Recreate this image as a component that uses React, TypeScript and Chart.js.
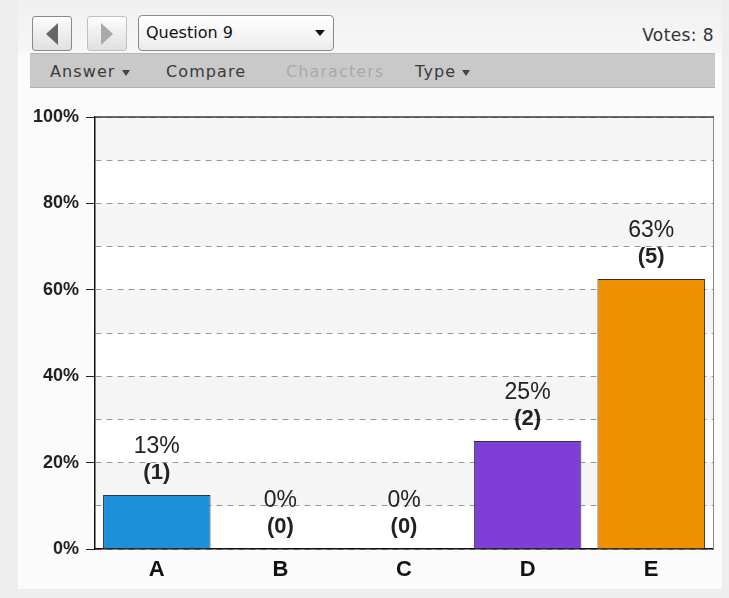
import React, { useEffect, useRef } from "react";
import { Chart, registerables } from "chart.js";

Chart.register(...registerables);

const categories = ["A", "B", "C", "D", "E"];
const voteCounts = [1, 0, 0, 2, 5];
const percentValues = [12.5, 0, 0, 25, 62.5];
const percentLabels = ["13%", "0%", "0%", "25%", "63%"];
const barColors = ["#1E8FDA", "#1E8FDA", "#1E8FDA", "#7F3FD6", "#EE9000"];
const questionLabel = "Question 9";
const totalVotes = 8;
const menuItems = ["Answer", "Compare", "Characters", "Type"];

const bandsPlugin = {
  id: "bands",
  beforeDraw(chart: any) {
    const { ctx, chartArea, scales } = chart;
    const y = scales.y;
    ctx.save();
    ctx.fillStyle = "#ffffff";
    ctx.fillRect(chartArea.left, chartArea.top, chartArea.right - chartArea.left, chartArea.bottom - chartArea.top);
    ctx.fillStyle = "#f5f5f5";
    for (let v = 10; v < 100; v += 20) {
      const top = y.getPixelForValue(v + 10);
      const bot = y.getPixelForValue(v);
      ctx.fillRect(chartArea.left, top, chartArea.right - chartArea.left, bot - top);
    }
    ctx.restore();
  },
};

const framePlugin = {
  id: "frame",
  afterDraw(chart: any) {
    const { ctx, chartArea } = chart;
    ctx.save();
    ctx.strokeStyle = "#8a8a8a";
    ctx.lineWidth = 1;
    ctx.beginPath();
    ctx.moveTo(chartArea.right + 0.5, chartArea.top);
    ctx.lineTo(chartArea.right + 0.5, chartArea.bottom);
    ctx.stroke();
    ctx.strokeStyle = "#3a3a3a";
    ctx.lineWidth = 1.5;
    ctx.beginPath();
    ctx.moveTo(chartArea.left, chartArea.top);
    ctx.lineTo(chartArea.right + 1, chartArea.top);
    ctx.stroke();
    ctx.restore();
  },
};

const labelsPlugin = {
  id: "barLabels",
  afterDatasetsDraw(chart: any) {
    const { ctx } = chart;
    const meta = chart.getDatasetMeta(0);
    ctx.save();
    ctx.textAlign = "center";
    ctx.textBaseline = "middle";
    ctx.fillStyle = "#222";
    meta.data.forEach((el: any, i: number) => {
      ctx.font = "23px 'Liberation Sans', Arial, sans-serif";
      ctx.fillText(percentLabels[i], el.x, el.y - 48);
      ctx.font = "bold 22px 'Liberation Sans', Arial, sans-serif";
      ctx.fillText("(" + voteCounts[i] + ")", el.x, el.y - 22);
    });
    ctx.restore();
  },
};

function ChartCanvas() {
  const ref = useRef<HTMLCanvasElement | null>(null);
  useEffect(() => {
    if (!ref.current) return;
    const chart = new Chart(ref.current, {
      type: "bar",
      data: {
        labels: categories,
        datasets: [
          {
            data: percentValues,
            backgroundColor: barColors,
            borderColor: "#333333",
            borderWidth: 1,
            barPercentage: 0.87,
            categoryPercentage: 1.0,
          },
        ],
      },
      options: {
        animation: false,
        responsive: false,
        devicePixelRatio: 1,
        layout: { padding: { left: 0, right: 16, top: 27, bottom: 0 } },
        plugins: { legend: { display: false }, tooltip: { enabled: false } },
        scales: {
          x: {
            grid: { display: false, drawTicks: false },
            border: { display: true, color: "#111", width: 1.5 },
            ticks: {
              color: "#111",
              padding: 8,
              font: { family: "'Liberation Sans', Arial, sans-serif", size: 22, weight: "bold" },
            },
            afterFit(scale: any) {
              scale.height = 49;
            },
          },
          y: {
            min: 0,
            max: 100,
            ticks: {
              stepSize: 10,
              padding: 7,
              color: "#222",
              font: { family: "'Liberation Sans', Arial, sans-serif", size: 18, weight: "bold" },
              callback: (v: any) => (Number(v) % 20 === 0 ? v + "%" : ""),
            },
            grid: {
              color: "#999999",
              lineWidth: 1,
              tickLength: 9,
              tickColor: (c: any) => (c.tick && c.tick.value % 20 === 0 ? "#222" : "rgba(0,0,0,0)"),
            },
            border: { display: true, color: "#111", width: 1.5, dash: [6, 5] },
            afterFit(scale: any) {
              scale.width = 95;
            },
          },
        },
      },
      plugins: [bandsPlugin, labelsPlugin, framePlugin],
    } as any);
    return () => chart.destroy();
  }, []);
  return (
    <canvas
      ref={ref}
      width={729}
      height={508}
      style={{ position: "absolute", left: 0, top: 90, width: 729, height: 508 }}
    />
  );
}

const tri = (dir: "left" | "right" | "down", color: string, w: number, h: number): React.CSSProperties => {
  if (dir === "down")
    return { width: 0, height: 0, borderLeft: `${w / 2}px solid transparent`, borderRight: `${w / 2}px solid transparent`, borderTop: `${h}px solid ${color}`, display: "inline-block" };
  if (dir === "left")
    return { width: 0, height: 0, borderTop: `${h / 2}px solid transparent`, borderBottom: `${h / 2}px solid transparent`, borderRight: `${w}px solid ${color}` };
  return { width: 0, height: 0, borderTop: `${h / 2}px solid transparent`, borderBottom: `${h / 2}px solid transparent`, borderLeft: `${w}px solid ${color}` };
};

export default function App() {
  const btn: React.CSSProperties = {
    position: "absolute",
    top: 16,
    width: 40,
    height: 35,
    boxSizing: "border-box",
    borderRadius: 3,
    display: "flex",
    alignItems: "center",
    justifyContent: "center",
    background: "linear-gradient(#fdfdfd, #e0e0e0)",
  };
  const menuText: React.CSSProperties = {
    position: "absolute",
    top: 0,
    lineHeight: "35px",
    fontSize: 16,
    letterSpacing: 1.1,
    color: "#3a3a3a",
    whiteSpace: "nowrap",
  };
  return (
    <div
      style={{
        position: "fixed",
        left: 0,
        top: 0,
        width: 729,
        height: 598,
        background: "#eeeeee",
        overflow: "hidden",
        fontFamily: "'DejaVu Sans', Verdana, sans-serif",
      }}
    >
      <div style={{ position: "absolute", left: 18, top: 0, width: 704, height: 589, background: "#fbfbfb" }} />
      <div style={{ position: "absolute", left: 18, top: 0, width: 704, height: 53, background: "linear-gradient(#f0f0f0, #f7f7f7)" }} />
      <div style={{ ...btn, left: 32, border: "1px solid #8a8a8a" }}>
        <div style={tri("left", "#666", 12, 22)} />
      </div>
      <div style={{ ...btn, left: 87, border: "1px solid #c0c0c0" }}>
        <div style={tri("right", "#aaa", 12, 22)} />
      </div>
      <div
        style={{
          position: "absolute",
          left: 138,
          top: 15,
          width: 196,
          height: 36,
          boxSizing: "border-box",
          border: "1px solid #8a8a8a",
          borderRadius: 4,
          background: "linear-gradient(#ffffff, #ececec)",
        }}
      >
        <div style={{ position: "absolute", left: 7, top: 0, lineHeight: "34px", fontSize: 16, color: "#111" }}>{questionLabel}</div>
        <div style={{ position: "absolute", left: 176, top: 14, ...tri("down", "#111", 10, 6) }} />
      </div>
      <div style={{ position: "absolute", right: 15, top: 24, lineHeight: "22px", fontSize: 17, letterSpacing: 0.4, color: "#333" }}>
        Votes: {totalVotes}
      </div>
      <div
        style={{
          position: "absolute",
          left: 30,
          top: 53,
          width: 685,
          height: 35,
          boxSizing: "border-box",
          background: "#c9c9c9",
          borderTop: "1px solid #b5b5b5",
          borderBottom: "1px solid #b0b0b0",
        }}
      >
        <div style={{ ...menuText, left: 20 }}>
          {menuItems[0]} <span style={{ ...tri("down", "#444", 9, 6), verticalAlign: "middle", marginLeft: 0 }} />
        </div>
        <div style={{ ...menuText, left: 136 }}>{menuItems[1]}</div>
        <div style={{ ...menuText, left: 256, color: "#a9a9a9" }}>{menuItems[2]}</div>
        <div style={{ ...menuText, left: 385 }}>
          {menuItems[3]} <span style={{ ...tri("down", "#444", 9, 6), verticalAlign: "middle", marginLeft: 0 }} />
        </div>
      </div>
      <ChartCanvas />
    </div>
  );
}
